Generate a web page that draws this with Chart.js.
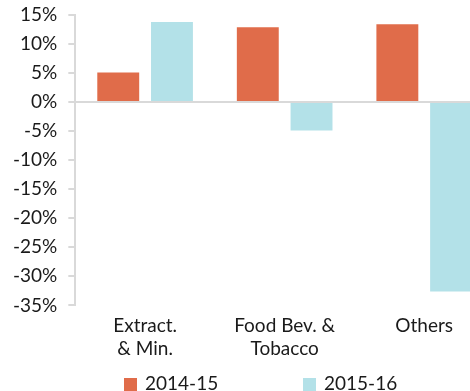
<!DOCTYPE html>
<html>
<head>
<meta charset="utf-8">
<script src="https://cdn.jsdelivr.net/npm/chart.js@4"></script>
<style>
  html, body { margin: 0; padding: 0; background: #fff; overflow: hidden; }
  #wrap { position: relative; width: 500px; height: 391px; }
  #legend { position: absolute; left: 124px; top: 371px; display: flex;
            font-family: Lato, sans-serif; font-size: 19px; color: #1a1a1a; line-height: 23px; }
  #legend div { width: 179px; white-space: nowrap; }
  #legend span.box { display: inline-block; width: 13px; height: 13px; margin-right: 8px; vertical-align: -1px; }
</style>
</head>
<body>
<div id="wrap">
  <canvas id="growthChart" width="500" height="391"></canvas>
  <div id="legend"></div>
</div>
<script>
// sectors and yearly growth (%)
const sectors = [['Extract.', '& Min.'], ['Food Bev. &', 'Tobacco'], 'Others'];
const growth1415 = [5.1, 12.9, 13.4];
const growth1516 = [13.8, -4.9, -32.6];
const seriesNames = ['2014-15', '2015-16'];
const yMin = -35, yMax = 15, yStep = 5;

const axisGrey = '#d9d9d9';

Chart.defaults.font.family = 'Lato, sans-serif';
Chart.defaults.font.size = 19;
Chart.defaults.color = '#1a1a1a';

// html legend built from the chart's own legend items
const htmlLegend = {
    id: 'htmlLegend',
    afterUpdate(chart) {
        const box = document.getElementById('legend');
        box.innerHTML = '';
        chart.options.plugins.legend.labels.generateLabels(chart).forEach(item => {
            const el = document.createElement('div');
            el.innerHTML = `<span class="box" style="background:${item.fillStyle}"></span>${item.text}`;
            box.appendChild(el);
        });
    }
};

const ctx = document.getElementById('growthChart').getContext('2d');
new Chart(ctx, {
    type: 'bar',
    data: {
        labels: sectors,
        datasets: [
            { label: seriesNames[0], data: growth1415, backgroundColor: '#e06c4a' },
            { label: seriesNames[1], data: growth1516, backgroundColor: '#b3e1e8' }
        ]
    },
    options: {
        responsive: false,
        animation: false,
        categoryPercentage: 0.77,
        barPercentage: 0.78,
        layout: { padding: { left: 2, right: 6, top: 0, bottom: 22 } },
        plugins: {
            legend: { display: false },
            tooltip: { enabled: false }
        },
        scales: {
            x: {
                grid: { display: false, drawTicks: false },
                border: { display: false },
                ticks: { padding: 9, maxRotation: 0, font: { size: 19, lineHeight: 1.2 } }
            },
            y: {
                min: yMin,
                max: yMax,
                // tick padding also pads the top; keep the top label close to the edge
                afterFit: s => { s.paddingTop = 15; },
                ticks: {
                    stepSize: yStep,
                    padding: 11,
                    font: { size: 19, lineHeight: 1.0 },
                    callback: v => v + '%'
                },
                grid: {
                    color: c => (c.tick && c.tick.value === 0) ? axisGrey : 'rgba(0,0,0,0)',
                    lineWidth: 2,
                    tickColor: axisGrey,
                    tickLength: 7
                },
                border: { display: true, color: axisGrey, width: 2 }
            }
        }
    },
    plugins: [htmlLegend]
});
</script>
</body>
</html>
